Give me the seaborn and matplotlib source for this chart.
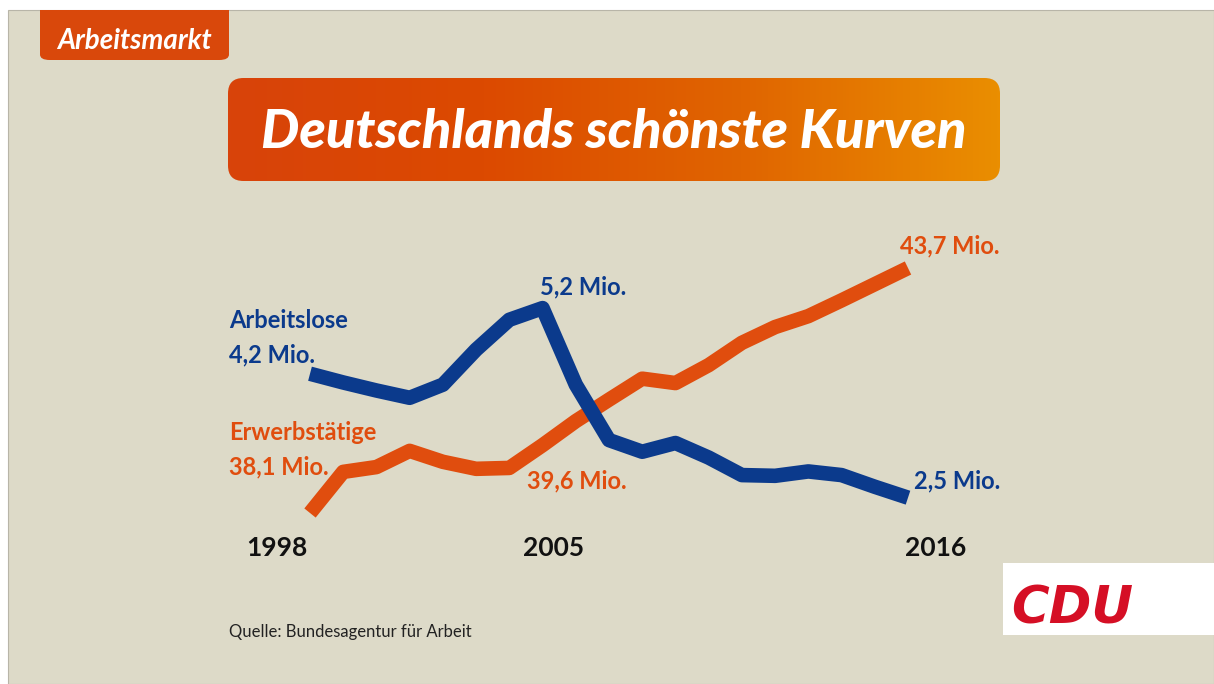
import numpy as np
import matplotlib
matplotlib.use("Agg")
import matplotlib.pyplot as plt
import seaborn as sns
from matplotlib.patches import FancyBboxPatch, Rectangle
from matplotlib.colors import LinearSegmentedColormap

# Daten (in Mio.)
jahre = [1998, 1999, 2000, 2001, 2002, 2003, 2004, 2005, 2006, 2007,
         2008, 2009, 2010, 2011, 2012, 2013, 2014, 2015, 2016]
arbeitslose = [4.20, 4.08, 3.97, 3.87, 4.05, 4.53, 4.94, 5.10, 4.05, 3.29,
               3.13, 3.25, 3.05, 2.81, 2.80, 2.86, 2.81, 2.65, 2.50]
erwerbstaetige = [38.10, 39.04, 39.15, 39.52, 39.27, 39.11, 39.13, 39.65, 40.20, 40.69,
                  41.17, 41.07, 41.48, 41.99, 42.35, 42.60, 42.96, 43.33, 43.70]
jahr_labels = ["1998", "2005", "2016"]
wert_labels_blau = ["4,2 Mio.", "5,2 Mio.", "2,5 Mio."]
wert_labels_orange = ["38,1 Mio.", "39,6 Mio.", "43,7 Mio."]

# Farben
bg = "#dddac8"
blau = "#0b3a8c"
orange = "#e04d0e"
tab_orange = "#d9480b"

sns.set_theme(style="white")
plt.rcParams['font.family'] = ['Lato', 'DejaVu Sans']

W, H = 1214, 684
fig = plt.figure(figsize=(W / 100, H / 100), dpi=100)
fig.patch.set_facecolor("white")


def fx(x):
    return x / W


def fy(y):
    return 1 - y / H


# Hintergrund
fig.patches.append(Rectangle((fx(8), 0), 1 - fx(8), fy(10), transform=fig.transFigure,
                             facecolor=bg, edgecolor="#b8b5a8", linewidth=0.8, zorder=-5))

# Reiter "Arbeitsmarkt"
fig.patches.append(FancyBboxPatch((fx(40), fy(60)), fx(229) - fx(40), fy(14) - fy(60),
                                  boxstyle="round,pad=0,rounding_size=0.008",
                                  transform=fig.transFigure, facecolor=tab_orange,
                                  edgecolor="none", zorder=1))
fig.patches.append(Rectangle((fx(40), fy(20)), fx(229) - fx(40), fy(10) - fy(20),
                             transform=fig.transFigure, facecolor=tab_orange,
                             edgecolor="none", zorder=1))
fig.text(fx(134), fy(41), "Arbeitsmarkt", color="white", fontsize=20, fontweight="bold",
         style="italic", ha="center", va="center")

# Titelbox mit Verlauf
tb = fig.add_axes([fx(228), fy(181), fx(1000) - fx(228), fy(78) - fy(181)])
tb.set_axis_off()
grad = np.linspace(0, 1, 256).reshape(1, -1)
cmap = LinearSegmentedColormap.from_list("titel", ["#d8430a", "#dc4a00", "#e06500", "#ea8e00"])
img = tb.imshow(grad, extent=[0, 1, 0, 1], aspect="auto", cmap=cmap)
tb.set_xlim(0, 1)
tb.set_ylim(0, 1)
box = FancyBboxPatch((0, 0), 1, 1, boxstyle="round,pad=0,rounding_size=0.02",
                     transform=tb.transData, facecolor="none", edgecolor="none",
                     mutation_aspect=7.5)
tb.add_patch(box)
img.set_clip_path(box)
tb.text(0.5, 0.47, "Deutschlands schönste Kurven", color="white", fontsize=39,
        fontweight="black", style="italic", ha="center", va="center")

# Linien
ax = fig.add_axes([fx(310), fy(513), fx(908) - fx(310), fy(268) - fy(513)])
ax.set_facecolor("none")
sns.lineplot(x=jahre, y=erwerbstaetige, ax=ax, color=orange, linewidth=10.5,
             solid_joinstyle="round", solid_capstyle="butt", clip_on=False)
ax.set_xlim(1998, 2016)
ax.set_ylim(38.1, 43.7)
ax.set_axis_off()

ax2 = ax.twinx()
sns.lineplot(x=jahre, y=arbeitslose, ax=ax2, color=blau, linewidth=10.5,
             solid_joinstyle="round", solid_capstyle="butt", clip_on=False)
ax2.set_xlim(1998, 2016)
ax2.set_ylim(2.29, 5.65)
ax2.set_axis_off()

# Beschriftungen
lab = dict(fontsize=17, fontweight="bold", va="center")
fig.text(fx(229), fy(320), "Arbeitslose", color=blau, ha="left", **lab)
fig.text(fx(229), fy(355), wert_labels_blau[0], color=blau, ha="left", **lab)
fig.text(fx(540), fy(287), wert_labels_blau[1], color=blau, ha="left", **lab)
fig.text(fx(1000), fy(481), wert_labels_blau[2], color=blau, ha="right", **lab)
fig.text(fx(229), fy(432), "Erwerbstätige", color=orange, ha="left", **lab)
fig.text(fx(229), fy(467), wert_labels_orange[0], color=orange, ha="left", **lab)
fig.text(fx(627), fy(481), wert_labels_orange[1], color=orange, ha="right", **lab)
fig.text(fx(1000), fy(246), wert_labels_orange[2], color=orange, ha="right", **lab)

for xpos, t in zip([277, 554, 936], jahr_labels):
    fig.text(fx(xpos), fy(548), t, color="#111111", fontsize=19, fontweight="bold",
             ha="center", va="center")

fig.text(fx(229), fy(632), "Quelle: Bundesagentur für Arbeit", color="#222222",
         fontsize=12, ha="left", va="center")

# CDU-Logo
fig.patches.append(Rectangle((fx(1003), fy(635)), 1 - fx(1003), fy(563) - fy(635),
                             transform=fig.transFigure, facecolor="white",
                             edgecolor="none", zorder=1))
fig.text(fx(1072), fy(610), "CDU", color="#d50f25", fontsize=37, fontweight="heavy",
         style="italic", family="DejaVu Sans", ha="center", va="center")

fig.savefig("out.png", dpi=100, facecolor=fig.get_facecolor())
